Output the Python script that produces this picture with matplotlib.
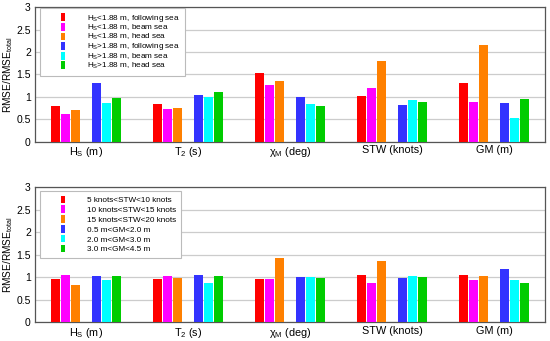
import matplotlib
matplotlib.use("Agg")
import matplotlib.pyplot as plt
from matplotlib.patches import Rectangle
from matplotlib.legend_handler import HandlerPatch, update_from_first_child
from matplotlib.container import BarContainer
import numpy as np

plt.rcParams['font.family'] = ['Liberation Sans', 'DejaVu Sans']
plt.rcParams['mathtext.fontset'] = 'custom'
plt.rcParams['mathtext.rm'] = 'Liberation Sans'
plt.rcParams['mathtext.it'] = 'Liberation Sans'

categories = ["H$_S$ (m)", "T$_2$ (s)", "\u03c7$_M$ (deg)", "STW (knots)", "GM (m)"]

top_labels = ["H$_S$<1.88 m, following sea", "H$_S$<1.88 m, beam sea", "H$_S$<1.88 m, head sea",
              "H$_S$>1.88 m, following sea", "H$_S$>1.88 m, beam sea", "H$_S$>1.88 m, head sea"]
top_values = [
    [0.79, 0.84, 1.54, 1.01, 1.30],
    [0.62, 0.72, 1.27, 1.19, 0.88],
    [0.70, 0.76, 1.35, 1.80, 2.16],
    [1.30, 1.05, 0.99, 0.81, 0.86],
    [0.87, 0.99, 0.84, 0.93, 0.53],
    [0.98, 1.11, 0.79, 0.88, 0.95],
]

bottom_labels = ["5 knots<STW<10 knots", "10 knots<STW<15 knots", "15 knots<STW<20 knots",
                 "0.5 m<GM<2.0 m", "2.0 m<GM<3.0 m", "3.0 m<GM<4.5 m"]
bottom_values = [
    [0.97, 0.97, 0.96, 1.06, 1.05],
    [1.06, 1.04, 0.97, 0.87, 0.95],
    [0.82, 0.98, 1.42, 1.36, 1.03],
    [1.02, 1.05, 1.01, 0.99, 1.18],
    [0.93, 0.87, 1.01, 1.02, 0.93],
    [1.03, 1.04, 0.99, 1.01, 0.87],
]

colors = ["#ff0000", "#ff00ff", "#ff8000", "#3333ff", "#00ffff", "#00cc00"]
offsets = [-3, -2, -1, 1, 2, 3]
slot = 0.101
bar_w = 0.088

LEG_FS = 5.9
RECT_W = 2.9  # points


def narrow_rect(legend, orig_handle, xdescent, ydescent, width, height, fontsize):
    return Rectangle((width - RECT_W - xdescent, -ydescent), RECT_W, height)


fig = plt.figure(figsize=(5.5, 3.41), dpi=100)
ax1 = fig.add_axes([0.0636, 0.5845, 0.9274, 0.3945])
ax2 = fig.add_axes([0.0636, 0.0548, 0.9274, 0.3959])

x = np.arange(len(categories))


def draw(ax, values, labels, lspace, hh, ytop):
    for i, (vals, lab, c) in enumerate(zip(values, labels, colors)):
        ax.bar(x + offsets[i] * slot, vals, width=bar_w, color=c, label=lab,
               edgecolor='none', zorder=3)
    ax.set_xlim(-0.5, 4.5)
    ax.set_ylim(0, 3)
    ax.set_yticks([0, 0.5, 1, 1.5, 2, 2.5, 3])
    ax.set_yticklabels(["0", "0.5", "1", "1.5", "2", "2.5", "3"])
    ax.set_xticks(x)
    ax.set_xticklabels(categories, fontsize=7.8)
    ax.tick_params(axis='x', length=0, pad=2.5)
    ax.tick_params(axis='y', labelsize=7.5, length=0, pad=3)
    ax.yaxis.grid(True, color='#cccccc', linewidth=0.9, zorder=0)
    ax.set_axisbelow(True)
    for s in ax.spines.values():
        s.set_color('#555555')
        s.set_linewidth(0.9)
    ax.set_ylabel("RMSE/RMSE$_{total}$", fontsize=7.3, labelpad=1)
    leg = ax.legend(loc='upper left', bbox_to_anchor=(0.01, ytop),
                    fontsize=LEG_FS,
                    handlelength=2.42, handleheight=hh, handletextpad=2.65,
                    labelspacing=lspace, borderpad=0.6, borderaxespad=0.0,
                    frameon=True, fancybox=False, framealpha=1,
                    handler_map={BarContainer: HandlerPatch(patch_func=narrow_rect,
                                                            update_func=update_from_first_child)})
    leg.get_frame().set_edgecolor('#bbbbbb')
    leg.get_frame().set_linewidth(0.8)
    leg.set_zorder(5)


draw(ax1, top_values, top_labels, -0.12, 1.1, 0.993)
draw(ax2, bottom_values, bottom_labels, 0.17, 1.0, 0.975)

fig.savefig("out.png", dpi=100)
